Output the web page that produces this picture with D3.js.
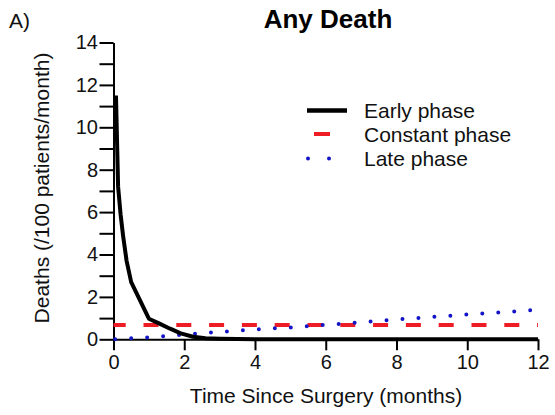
<!DOCTYPE html>
<html>
<head>
<meta charset="utf-8">
<script src="https://cdn.jsdelivr.net/npm/d3@7"></script>
<style>
  html, body { margin: 0; padding: 0; background: #fff; }
  svg { display: block; font-family: "Liberation Sans", Arial, sans-serif; }
</style>
</head>
<body>
<svg id="chart" width="555" height="415"></svg>
<script>
// ---- data ----
const earlyT   = [0.07, 0.13, 0.2, 0.27, 0.37, 0.5, 1.0, 1.3, 1.6, 1.9, 2.25, 2.6, 3.0, 3.5, 4, 5, 6, 7, 8, 9, 10, 11, 12];
const earlyV   = [11.5, 7.2, 5.9, 4.9, 3.7, 2.7, 0.97, 0.74, 0.5, 0.28, 0.12, 0.05, 0.03, 0.01, 0.005, 0, 0, 0, 0, 0, 0, 0, 0];
const constT   = [0, 12];
const constV   = [0.67, 0.67];
const lateT    = [0, 1, 2, 3, 4, 5, 6, 7, 8, 9, 10, 11, 12];
const lateV    = [0, 0.09, 0.22, 0.35, 0.46, 0.56, 0.68, 0.8, 0.94, 1.05, 1.17, 1.28, 1.39];
const xTicks   = [0, 2, 4, 6, 8, 10, 12];
const yTicks   = [0, 1, 2, 3, 4, 5, 6, 7, 8, 9, 10, 11, 12, 13, 14];
const legendLabels = ["Early phase", "Constant phase", "Late phase"];
const titleText = "Any Death";
const panelLabel = "A)";
const xTitle = "Time Since Surgery (months)";
const yTitle = "Deaths (/100 patients/month)";

// ---- layout ----
const svg = d3.select("#chart");
const FONT = "'Liberation Sans', Arial, sans-serif";
const BLUE = "#1515c8", RED = "#ee1c25";
const x = d3.scaleLinear().domain([0, 12]).range([113.5, 538]);
const y = d3.scaleLinear().domain([0, 14]).range([339.3, 42.5]);

// axes
const yAxis = d3.axisLeft(y).tickValues(yTicks).tickSize(14).tickSizeOuter(0).tickPadding(1.5)
  .tickFormat(d => d % 2 === 0 ? d : "");
const xAxis = d3.axisBottom(x).tickValues(xTicks).tickSize(11).tickSizeOuter(0).tickPadding(5);

const gy = svg.append("g").attr("transform", `translate(${x(0)},0)`).call(yAxis);
const gx = svg.append("g").attr("transform", `translate(0,${y(0)})`).call(xAxis);
[gx, gy].forEach(g => {
  g.select(".domain").attr("stroke", "#000").attr("stroke-width", 2);
  g.selectAll(".tick line").attr("stroke", "#000").attr("stroke-width", 2);
  g.selectAll(".tick text").attr("fill", "#111").style("font-family", FONT).style("font-size", "20px");
});

// lines
const line = d3.line().x(d => x(d[0])).y(d => y(d[1]));
const earlyData = earlyT.map((t, i) => [t, earlyV[i]]);
const constData = constT.map((t, i) => [t, constV[i]]);
const lateData  = lateT.map((t, i) => [t, lateV[i]]);

svg.append("path").datum(constData).attr("d", line)
  .attr("fill", "none").attr("stroke", RED).attr("stroke-width", 4)
  .attr("stroke-dasharray", "15,17.8").attr("stroke-dashoffset", 2.8);

svg.append("path").datum(lateData).attr("d", line)
  .attr("fill", "none").attr("stroke", BLUE).attr("stroke-width", 4)
  .attr("stroke-linecap", "round")
  .attr("stroke-dasharray", "0,16").attr("stroke-dashoffset", 14.3);

svg.append("path").datum(earlyData).attr("d", line)
  .attr("fill", "none").attr("stroke", "#000").attr("stroke-width", 4)
  .attr("stroke-linejoin", "round");

// legend
const leg = svg.append("g");
const rows = [110.5, 134, 158.5];
leg.append("line").attr("x1", 307).attr("x2", 347).attr("y1", rows[0]).attr("y2", rows[0])
  .attr("stroke", "#000").attr("stroke-width", 4.5);
leg.append("line").attr("x1", 314).attr("x2", 330).attr("y1", rows[1]).attr("y2", rows[1])
  .attr("stroke", RED).attr("stroke-width", 4);
[308, 329].forEach(cx => {
  leg.append("circle").attr("cx", cx).attr("cy", rows[2]).attr("r", 2).attr("fill", BLUE);
});
legendLabels.forEach((t, i) => {
  leg.append("text").attr("x", 364).attr("y", rows[i]).attr("dy", "0.36em")
    .attr("fill", "#111").style("font-family", FONT).style("font-size", "21px").text(t);
});

// titles
svg.append("text").attr("x", 328).attr("y", 28).attr("text-anchor", "middle")
  .style("font-family", FONT).style("font-size", "26px").style("font-weight", "bold")
  .attr("fill", "#000").text(titleText);
svg.append("text").attr("x", 9).attr("y", 28)
  .style("font-family", FONT).style("font-size", "21px").attr("fill", "#111").text(panelLabel);
svg.append("text").attr("x", 326).attr("y", 403).attr("text-anchor", "middle")
  .style("font-family", FONT).style("font-size", "21px").attr("fill", "#111").text(xTitle);
svg.append("text").attr("transform", "translate(49,188) rotate(-90)").attr("text-anchor", "middle")
  .style("font-family", FONT).style("font-size", "21px").attr("fill", "#111").text(yTitle);
</script>
</body>
</html>
